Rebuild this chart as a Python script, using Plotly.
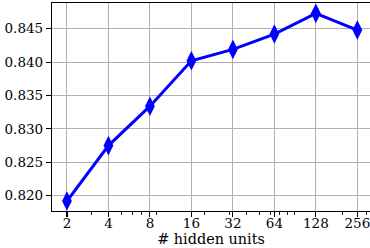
import plotly.graph_objects as go
import math

hidden_units = [2, 4, 8, 16, 32, 64, 128, 256]
accuracy = [0.8192, 0.8275, 0.8334, 0.8402, 0.8419, 0.8442, 0.8473, 0.8448]
x_tick_labels = ["2", "4", "8", "16", "32", "64", "128", "256"]
y_ticks = [0.820, 0.825, 0.830, 0.835, 0.840, 0.845]
minor_ticks = [3, 5, 6, 7, 9, 20, 30, 40, 50, 60, 70, 80, 90, 200, 300]

FONT = "DejaVu Serif"
x_range = [math.log10(2 ** 0.6394), math.log10(2 ** 8.305)]
y_range = [0.81771, 0.84885]

fig = go.Figure()
fig.add_trace(go.Scatter(
    x=hidden_units, y=accuracy, mode="lines+markers",
    line=dict(color="#0000ff", width=3),
    marker=dict(symbol="diamond-tall", size=14, color="#0000ff",
                line=dict(width=0)),
    showlegend=False, hoverinfo="skip"))
# invisible trace to anchor the minor-tick overlay axis
fig.add_trace(go.Scatter(
    x=hidden_units, y=accuracy, xaxis="x2", mode="markers",
    marker=dict(opacity=0), showlegend=False, hoverinfo="skip"))

fig.update_layout(
    width=370, height=248,
    margin=dict(l=52, r=0, t=3, b=37, autoexpand=False),
    paper_bgcolor="white", plot_bgcolor="white",
    font=dict(family=FONT, size=13.5, color="black"),
    xaxis=dict(
        type="log", range=x_range, automargin=False,
        tickmode="array", tickvals=hidden_units, ticktext=x_tick_labels,
        ticks="outside", ticklen=5, tickwidth=1.1, tickcolor="black",
        showline=True, linecolor="black", linewidth=1.1, mirror=True,
        showgrid=True, gridcolor="#b0b0b0", gridwidth=1,
        zeroline=False, ticklabeloverflow="allow", ticklabelstandoff=-5,
        title=dict(text="# hidden units", standoff=2,
                   font=dict(family=FONT, size=14.4)),
        tickfont=dict(family=FONT, size=13.5),
    ),
    xaxis2=dict(
        type="log", range=x_range, overlaying="x", side="bottom",
        automargin=False,
        tickmode="array", tickvals=minor_ticks, showticklabels=False,
        ticks="outside", ticklen=3, tickwidth=0.9, tickcolor="black",
        showgrid=False, showline=False, zeroline=False,
    ),
    yaxis=dict(
        range=y_range, automargin=False,
        tickmode="array", tickvals=y_ticks, tickformat=".3f",
        ticks="outside", ticklen=5, tickwidth=1.1, tickcolor="black",
        showline=True, linecolor="black", linewidth=1.1,
        showgrid=True, gridcolor="#b0b0b0", gridwidth=1,
        zeroline=False,
        tickfont=dict(family=FONT, size=13.5),
    ),
)

fig.write_html(
    "out.html",
    config={"displayModeBar": False, "staticPlot": True},
    post_script="document.body.style.margin='0px';document.body.style.padding='0px';",
)
